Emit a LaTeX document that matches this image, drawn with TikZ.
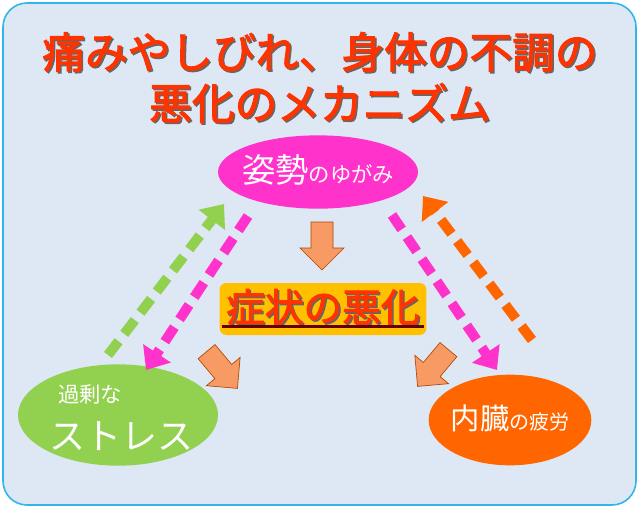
\documentclass[tikz,border=0pt]{standalone}
\usepackage{fontspec}
\newfontfamily\cjk{Noto Sans CJK JP}
\newfontfamily\cjkb[FakeBold=2.5]{Noto Sans CJK JP}
\usetikzlibrary{shapes.geometric,arrows.meta}
\definecolor{bgc}{HTML}{DDE8F4}
\definecolor{bdc}{HTML}{33B5EA}
\definecolor{pinkc}{HTML}{FF33CC}
\definecolor{greenc}{HTML}{92D050}
\definecolor{orc}{HTML}{FF6600}
\definecolor{yel}{HTML}{FFC000}
\definecolor{redt}{HTML}{FF3300}
\definecolor{blk}{HTML}{F79A63}
\begin{document}
\begin{tikzpicture}[x=0.75pt,y=-0.75pt,
  ell/.style={ellipse,draw=none,inner sep=0pt},
  ttl/.style={font=\cjkb\fontsize{32}{36}\selectfont,text=redt},
  tsh/.style={font=\cjkb\fontsize{32}{36}\selectfont,text=black!60},
  blockarr/.pic={\draw[fill=blk,draw=orc!70!black,line width=0.5pt] (-24,-11) -- (2,-11) -- (2,-22) -- (24,0) -- (2,22) -- (2,11) -- (-24,11) -- cycle;},
  dasharr/.style={line width=7.5pt,dash pattern=on 13pt off 7pt,-{Triangle[length=15pt,width=24pt]}}]
\useasboundingbox (0,0) rectangle (640,508);
\fill[bgc,draw=bdc,line width=1.2pt,rounded corners=18pt] (3,3) rectangle (636,505);
\node[tsh] (t1s) at (321.5,53.5) {痛みやしびれ、身体の不調の};
\node[ttl] (t1) at (320,52) {痛みやしびれ、身体の不調の};
\node[tsh] (t2s) at (321.5,104.5) {悪化のメカニズム};
\node[ttl] (t2) at (320,103) {悪化のメカニズム};
\node[ell,fill=pinkc,minimum width=150pt,minimum height=55pt] (top) at (318,172) {};
\node[text=white] (topt) at (318,170) {\cjk\fontsize{25}{28}\selectfont 姿勢\fontsize{16}{18}\selectfont のゆがみ};
\node[ell,fill=greenc,minimum width=150pt,minimum height=76pt] (left) at (118,415) {};
\node[text=white,font=\cjk\fontsize{16}{18}\selectfont] (lt1) at (90,394) {過剰な};
\node[text=white,font=\cjk\fontsize{27}{30}\selectfont] (lt2) at (122,436) {ストレス};
\node[ell,fill=orc,minimum width=122pt,minimum height=68pt] (right) at (510,420) {};
\node[text=white] (rt) at (510,418) {\cjk\fontsize{22}{26}\selectfont 内臓\fontsize{15}{18}\selectfont の疲労};
\node[fill=yel,rounded corners=5pt,minimum width=155pt,minimum height=39pt] (mid) at (323,309) {};
\node[font=\cjkb\fontsize{29}{32}\selectfont,text=black!60] (mids) at (324.5,308.5) {症状の悪化};
\node[font=\cjkb\fontsize{29}{32}\selectfont,text=redt] (midt) at (323,307) {症状の悪化};
\draw[line width=2pt,draw=black!60!red] ([xshift=-76pt,yshift=-13pt]mid.center) coordinate (u1) -- ([xshift=76pt,yshift=-13pt]mid.center) coordinate (u2);
\pic[rotate=-90] (a1) at (322,246) {blockarr};
\pic[rotate=-50] (a2) at (222,370) {blockarr};
\pic[rotate=-130] (a3) at (433,368) {blockarr};
\coordinate (g1) at (108,355); \coordinate (g2) at (224,204);
\coordinate (m1) at (248,216); \coordinate (m2) at (146,370);
\coordinate (n1) at (392,215); \coordinate (n2) at (497,370);
\coordinate (o1) at (532,340); \coordinate (o2) at (423,196);
\draw[dasharr,greenc] (g1) -- (g2);
\draw[dasharr,pinkc] (m1) -- (m2);
\draw[dasharr,pinkc] (n1) -- (n2);
\draw[dasharr,orc] (o1) -- (o2);
\end{tikzpicture}
\end{document}
